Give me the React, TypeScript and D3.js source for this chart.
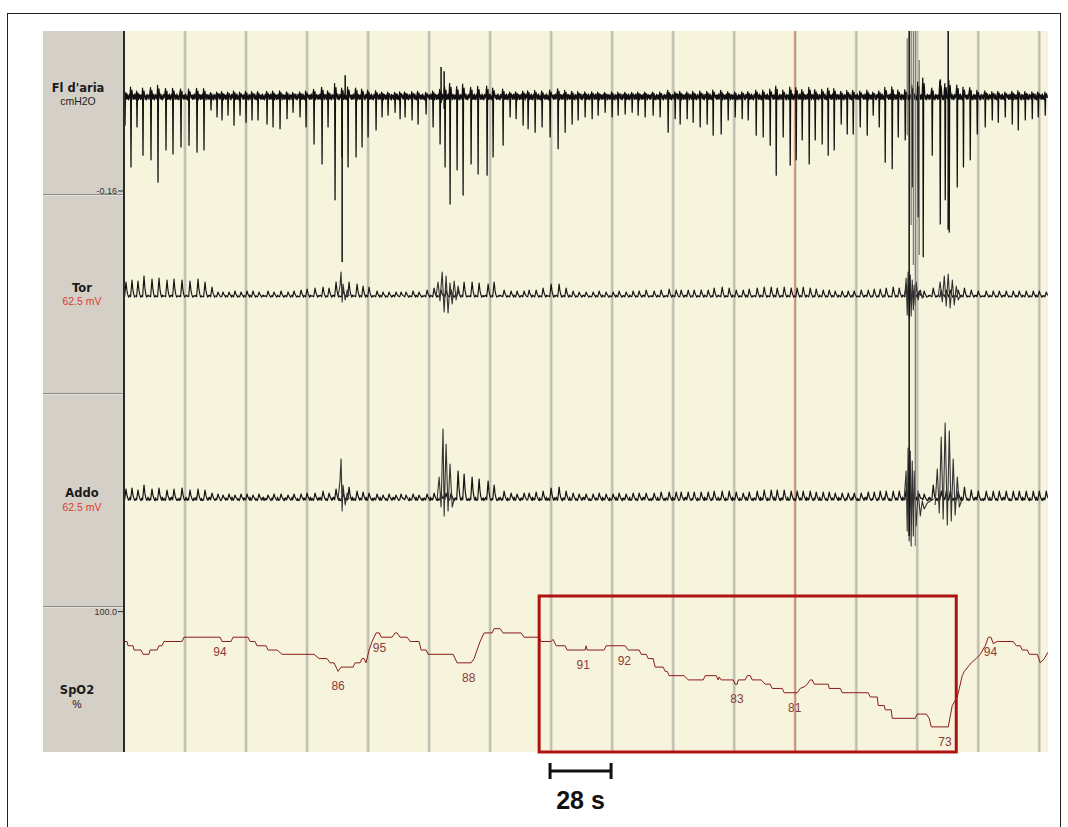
import React from "react";
import * as d3 from "d3";

// ---------- recording window ----------
const EPOCH_S = 424; // seconds shown across the page
const GRID_S = 28; // vertical grid every 28 s
const CURSOR_T = 308; // review cursor
const SCALE_BAR_T = [195.5, 223.5];
const HIGHLIGHT_T = [190.5, 381.9];

// ---------- breaths (onset time, s) ----------
const BREATH_T = [
  0.46, 3.21, 5.97, 8.72, 12.39, 15.61, 19.28, 22.49, 26.16, 29.84,
  33.51, 36.72, 39.93, 42.69, 44.98, 47.74, 50.49, 53.25, 56.0, 58.75,
  61.51, 65.64, 68.39, 71.61, 74.82, 77.58, 80.79, 83.54, 87.21, 90.89,
  93.64, 96.85, 100.07, 102.82, 106.49, 109.25, 112.0, 115.67, 118.43, 121.18,
  124.39, 126.69, 128.98, 132.2, 134.95, 138.62, 141.84, 145.05, 147.34, 149.64,
  152.85, 155.61, 159.28, 162.49, 166.62, 169.38, 173.97, 177.18, 179.93, 183.15,
  185.44, 188.66, 191.87, 195.54, 199.21, 202.43, 205.64, 208.4, 211.61, 214.82,
  217.58, 220.79, 224.0, 226.75, 229.97, 233.18, 235.93, 239.15, 242.82, 246.03,
  249.7, 252.92, 255.21, 258.43, 261.18, 264.39, 267.61, 270.36, 274.04, 277.25,
  280.47, 283.68, 286.44, 290.11, 293.32, 296.53, 299.29, 302.5, 305.71, 308.46,
  311.22, 314.43, 317.18, 320.39, 323.15, 325.9, 329.11, 331.87, 334.62, 337.84,
  341.05, 343.8, 346.56, 349.31, 352.52, 355.28, 358.49, 361.7, 364.46, 366.75,
  370.89, 374.56, 376.85, 378.69, 382.36, 385.21, 388.33, 391.54, 395.21, 398.43,
  401.18, 404.39, 407.61, 410.36, 413.57, 416.79, 419.54, 422.75,
];

// airflow: inspiratory dip of each breath (cmH2O)
const AIR_DIP = [
  -0.048, -0.119, -0.051, -0.099, -0.107, -0.145, -0.09, -0.097, -0.085, -0.082,
  -0.094, -0.09, -0.022, -0.034, -0.039, -0.031, -0.048, -0.031, -0.043, -0.039,
  -0.039, -0.046, -0.051, -0.054, -0.037, -0.026, -0.034, -0.051, -0.08, -0.114,
  -0.051, -0.175, -0.102, -0.119, -0.102, -0.085, -0.068, -0.056, -0.034, -0.031,
  -0.026, -0.037, -0.034, -0.039, -0.046, -0.029, -0.051, -0.08, -0.119, -0.182,
  -0.124, -0.167, -0.114, -0.131, -0.133, -0.102, -0.082, -0.034, -0.037, -0.048,
  -0.054, -0.06, -0.051, -0.068, -0.088, -0.06, -0.046, -0.039, -0.034, -0.037,
  -0.031, -0.026, -0.034, -0.031, -0.029, -0.026, -0.031, -0.034, -0.031, -0.034,
  -0.06, -0.037, -0.046, -0.037, -0.043, -0.051, -0.046, -0.065, -0.063, -0.039,
  -0.034, -0.037, -0.039, -0.065, -0.068, -0.082, -0.133, -0.068, -0.116, -0.107,
  -0.073, -0.114, -0.073, -0.08, -0.099, -0.09, -0.046, -0.063, -0.063, -0.051,
  -0.065, -0.031, -0.051, -0.111, -0.122, -0.068, -0.073, -0.153, -0.204, -0.272,
  -0.099, -0.216, -0.175, -0.23, -0.153, -0.119, -0.107, -0.063, -0.051, -0.039,
  -0.043, -0.034, -0.046, -0.056, -0.039, -0.037, -0.034, -0.031,
];

// thoracic effort: peak of each breath (channel units)
const TOR_PEAK = [
  14, 16, 15, 20, 17, 18, 16, 17, 16, 15,
  17, 14, 9, 4, 4, 4, 5, 4, 5, 5,
  4, 5, 4, 5, 4, 5, 6, 7, 8, 9,
  8, 14, 6, 14, 12, 10, 9, 5, 4, 4,
  4, 4, 4, 5, 4, 6, 8, 6, 6, 6,
  6, 14, 14, 13, 12, 14, 6, 5, 5, 5,
  6, 6, 8, 12, 12, 8, 5, 4, 4, 4,
  5, 4, 4, 5, 4, 5, 5, 6, 5, 6,
  7, 6, 6, 6, 6, 6, 6, 8, 9, 8,
  6, 6, 7, 8, 9, 9, 8, 9, 8, 8,
  9, 8, 7, 6, 6, 5, 5, 5, 5, 6,
  6, 7, 7, 8, 9, 8, 12, 5, 5, 5,
  8, 6, 6, 6, 6, 8, 6, 5, 5, 5,
  5, 5, 5, 5, 5, 5, 5, 4,
];

// abdominal effort: peak of each breath (channel units)
const ADDO_PEAK = [
  10, 11, 9, 14, 10, 11, 9, 10, 11, 9,
  10, 9, 6, 5, 4, 5, 4, 5, 5, 4,
  5, 4, 5, 5, 4, 5, 5, 6, 6, 8,
  6, 10, 6, 12, 8, 7, 6, 5, 4, 5,
  4, 5, 4, 5, 4, 5, 6, 6, 6, 6,
  28, 25, 22, 20, 18, 14, 8, 6, 5, 6,
  6, 7, 8, 11, 12, 8, 6, 5, 5, 5,
  6, 5, 5, 6, 5, 6, 6, 6, 6, 7,
  7, 7, 7, 7, 7, 7, 7, 8, 8, 8,
  7, 6, 7, 8, 9, 9, 9, 9, 8, 8,
  8, 8, 7, 7, 7, 6, 6, 6, 6, 6,
  7, 7, 8, 8, 8, 8, 10, 5, 5, 5,
  14, 8, 8, 8, 8, 12, 9, 8, 8, 8,
  8, 8, 8, 8, 8, 8, 8, 8,
];

// movement / arousal bursts: [time s, value]
const TOR_BURSTS: [number, number][][] = [
  [[98.2, 0], [99.1, 10], [99.6, 24], [100.1, -6], [100.5, 12], [101.5, -4], [102.4, 6], [103.3, 0]],
  [[143.2, 0], [144.1, 14], [145.0, -5], [146.0, 24], [146.9, -16], [147.8, 20], [148.7, -17], [149.6, 13],
   [150.6, -8], [151.5, 15], [152.4, -4], [153.3, 10], [154.2, 0]],
  [[358.0, 0], [358.5, 6], [358.9, 18], [359.4, -19], [359.8, 24], [360.3, -22], [360.8, 21], [361.2, -20],
   [361.7, 16], [362.2, -14], [362.6, 11], [363.1, -9], [363.5, 14], [364.4, -4], [365.4, 6], [366.3, -2], [367.2, 0]],
  [[373.6, 0], [374.5, 14], [375.5, -6], [376.4, 20], [377.3, -10], [378.2, 22], [379.1, -12], [380.1, 16],
   [381.0, -9], [381.9, 10], [382.8, -4], [383.7, 0]],
];

const ADDO_BURSTS: [number, number][][] = [
  [[98.2, 0], [99.1, 18], [99.6, 40], [100.1, -12], [100.5, 14], [101.5, -6], [102.4, 6], [103.3, 0]],
  [[143.7, 0], [144.6, 22], [145.5, -8], [146.4, 70], [146.9, -17], [147.8, 55], [148.7, -12], [149.6, 35],
   [150.6, -8], [151.5, 0]],
  [[358.0, 0], [358.9, 28], [359.4, -32], [359.8, 51], [360.3, -42], [360.8, 48], [361.2, -47], [361.7, 38],
   [362.2, -37], [362.6, 28], [363.5, -27], [364.4, 8], [365.4, -17], [366.3, -2], [367.2, -10], [368.6, -4],
   [370.0, -2], [371.5, 0]],
  [[372.2, -6], [373.2, 30], [374.1, -14], [375.0, 62], [375.9, -20], [376.8, 76], [377.8, -26], [378.7, 68],
   [379.6, -22], [380.5, 40], [381.4, -16], [382.4, 22], [383.3, -8], [384.6, 0]],
];

// saturated artefact strokes: [time s, channel, value, channel, value, dark]
const ARTIFACTS: [number, string, number, string, number, number][] = [
  [100.1, "air", 0.008, "tor", 34, 1],
  [101.5, "air", 0.037, "air", 0, 1],
  [145.5, "air", 0.051, "air", -0.01, 1],
  [146.9, "air", 0.044, "air", -0.02, 1],
  [359.4, "air", 0.1, "air", -0.065, 0],
  [360.3, "air", 0.115, "addo", -37, 1],
  [361.2, "air", 0.115, "air", -0.218, 0],
  [362.2, "air", 0.115, "air", -0.286, 0],
  [363.1, "air", 0.115, "addo", -47, 0],
  [364.9, "air", 0.063, "air", -0.269, 0],
  [374.6, "air", 0.03, "air", 0, 1],
  [378.2, "air", 0.115, "air", -0.226, 1],
];

// ---------- SpO2 (%) ----------
const SPO2_T = [
  0, 1.38, 1.84, 4.13, 4.59, 7.8, 8.72, 11.48, 11.93, 15.15, 16.07, 17.44, 18.36, 26.62, 27.54, 44.07,
  44.98, 49.12, 50.03, 56.92, 57.84, 60.13, 61.05, 65.18, 66.1, 70.23, 72.53, 87.21, 89.51, 93.18, 94.56,
  96.39, 98.23, 99.61, 105.12, 106.03, 108.33, 109.25, 110.16, 111.08, 112.46, 113.84, 115.67, 117.2,
  118.0, 123.02, 124.39, 125.31, 126.69, 129.9, 131.28, 135.41, 136.33, 138.62, 139.54, 151.02, 152.85,
  159.28, 160.66, 163.41, 165.25, 168.92, 169.84, 172.59, 173.97, 182.23, 183.61, 190.49, 191.41, 196.0,
  196.92, 197.38, 198.3, 202.43, 203.35, 211.61, 212.07, 212.53, 220.33, 221.25, 229.97, 231.35, 236.4,
  237.31, 239.61, 240.53, 242.82, 243.74, 247.41, 248.33, 249.25, 250.17, 257.05, 258.89, 265.78, 266.7,
  271.75, 272.66, 273.12, 274.04, 279.55, 280.47, 281.38, 281.84, 285.05, 285.97, 287.35, 288.27, 292.4,
  294.23, 296.53, 297.45, 302.04, 302.95, 308.92, 310.3, 312.59, 313.51, 314.89, 315.81, 316.72, 323.15,
  323.61, 328.66, 329.58, 341.51, 342.43, 345.64, 346.1, 348.86, 349.31, 352.07, 352.53, 363.09, 364.0,
  368.13, 369.51, 370.43, 378.23, 380.07, 382.36, 384.66, 385.58, 388.79, 391.08, 392.92, 395.22, 396.59,
  397.8, 398.89, 400.72, 408.07, 409.44, 411.28, 412.2, 414.5, 415.41, 419.09, 420.46, 422.3, 424,
];
const SPO2_V = [
  93, 93, 92, 92, 91, 91, 90, 90, 91, 91, 92, 92, 93, 93, 94, 94,
  93, 93, 94, 94, 93, 93, 92, 92, 91, 91, 90, 90, 89, 89, 88,
  88, 86, 87, 87, 88, 88, 89, 89, 88, 91, 93, 95, 95,
  94, 94, 95, 95, 94, 94, 93, 93, 91, 91, 90, 90, 88,
  88, 89, 93, 95, 95, 96, 96, 95, 95, 94, 94, 93, 93,
  93.5, 93, 92, 92, 91, 91, 92, 91, 91, 92, 92, 91, 91,
  90, 90, 89, 89, 87, 87, 86, 86, 85, 85, 84, 84, 85,
  85, 84, 84.7, 84, 84, 83, 83, 84, 84, 85, 85, 84, 84,
  83, 83, 82, 82, 81, 81, 82, 82.5, 83, 84, 84, 83, 83,
  82, 82, 81, 81, 80, 80, 78, 78, 77, 77, 75, 75, 76,
  76, 75, 73, 73, 78, 80, 85, 86, 88, 89, 90, 92, 94,
  94, 92.5, 93, 93, 92, 92, 91, 91, 90, 90, 88, 89, 90.5,
];
const SPO2_LABEL_T = [44.0, 98.23, 117.2, 158.2, 210.7, 229.6, 281.3, 307.8, 376.7, 397.6];
const SPO2_LABEL_V = [94, 86, 95, 88, 91, 92, 83, 81, 73, 94];

// ---------- channel labels ----------
const CHANNELS = [
  { name: "Fl d'aria", unit: "cmH2O", unitColor: "#222", cx: 78, nameY: 92, unitY: 105 },
  { name: "Tor", unit: "62.5 mV", unitColor: "#e03a32", cx: 82, nameY: 292, unitY: 305 },
  { name: "Addo", unit: "62.5 mV", unitColor: "#e03a32", cx: 82, nameY: 497, unitY: 511 },
  { name: "SpO2", unit: "%", unitColor: "#222", cx: 77, nameY: 694, unitY: 708 },
];
const PANEL_SPLITS = [194, 393, 606];

// ---------- layout ----------
const W = 1068;
const H = 827;
const X_LEFT = 124;
const X_RIGHT = 1048;
const Y_TOP = 31;
const Y_BOTTOM = 752;
const PANEL_LEFT = 43;

const SANS = "'Liberation Sans', Arial, sans-serif";
const LABEL_FONT = "'DejaVu Sans', Verdana, sans-serif";

// small fixed wobble of each trace between breaths (px)
const AIR_WOBBLE = [2.0, -1.8, 3.0, -2.2, 1.2, -2.8, 2.6, -1.0, 1.8, -2.4];
const TOR_WOBBLE = [0.5, -0.4, 0.9, -0.3, 0.2, -0.6];
const ADDO_WOBBLE = [1.2, -1.0, 1.8, -1.4, 0.6, -1.6];

type Pt = [number, number];

function airPoints(x: d3.ScaleLinear<number, number>, y: d3.ScaleLinear<number, number>): Pt[] {
  const pts: Pt[] = [];
  const base = y(0);
  const n = BREATH_T.length;
  let k = 0;
  for (let i = 0; i < n; i++) {
    const xi = x(BREATH_T[i]);
    const x0 = i === 0 ? X_LEFT : (x(BREATH_T[i - 1]) + xi) / 2;
    const x1 = i === n - 1 ? X_RIGHT : (xi + x(BREATH_T[i + 1])) / 2;
    const dipY = y(AIR_DIP[i]);
    const up = 3 + 0.1 * (dipY - base);
    for (let px = x0; px < xi - 0.8; px += 0.65) pts.push([px, base - AIR_WOBBLE[k++ % AIR_WOBBLE.length]]);
    pts.push([xi - 0.45, base - up]);
    pts.push([xi, dipY]);
    pts.push([xi + 0.4, base + 1.5]);
    pts.push([xi + 0.9, base - up * 0.7]);
    for (let px = xi + 1.5; px < x1; px += 0.65) pts.push([px, base - AIR_WOBBLE[k++ % AIR_WOBBLE.length]]);
  }
  return pts;
}

function musclePoints(
  x: d3.ScaleLinear<number, number>,
  y: d3.ScaleLinear<number, number>,
  peaks: number[],
  wobble: number[]
): Pt[] {
  const pts: Pt[] = [];
  const base = y(0);
  const n = BREATH_T.length;
  const lag = 1;
  let k = 0;
  for (let i = 0; i < n; i++) {
    const xi = x(BREATH_T[i]) + lag;
    const x0 = i === 0 ? X_LEFT : (x(BREATH_T[i - 1]) + x(BREATH_T[i])) / 2 + lag;
    const x1 = i === n - 1 ? X_RIGHT : (x(BREATH_T[i]) + x(BREATH_T[i + 1])) / 2 + lag;
    const py = y(peaks[i]);
    const a = base - py;
    const shape: Pt[] = [
      [xi - 1.4, base + 0.8],
      [xi, py],
      [xi + 0.9, base - a * 0.4],
      [xi + 1.7, base - a * 0.12],
      [xi + 2.6, base + 1.2],
    ];
    for (let px = x0; px < xi - 1.6; px += 1.1) pts.push([px, base - wobble[k++ % wobble.length]]);
    shape.forEach((p) => {
      if (p[0] >= x0 && p[0] < x1) pts.push(p);
    });
    for (let px = xi + 3.4; px < x1; px += 1.1) pts.push([px, base - wobble[k++ % wobble.length]]);
  }
  return pts;
}

export default function App() {
  const x = d3.scaleLinear().domain([0, EPOCH_S]).range([X_LEFT, X_RIGHT]);
  const yAir = d3.scaleLinear().domain([0, -0.16]).range([97, 191]);
  const yTor = d3.scaleLinear().domain([-100, 100]).range([396, 196]);
  const yAddo = d3.scaleLinear().domain([-100, 100]).range([599, 399]);
  const ySpo2 = d3.scaleLinear().domain([100, 67]).range([611.6, 752.5]);
  const chan: Record<string, d3.ScaleLinear<number, number>> = { air: yAir, tor: yTor, addo: yAddo };

  const line = d3.line<Pt>();
  const airD = line(airPoints(x, yAir)) || "";
  const torD = line(musclePoints(x, yTor, TOR_PEAK, TOR_WOBBLE)) || "";
  const addoD = line(musclePoints(x, yAddo, ADDO_PEAK, ADDO_WOBBLE)) || "";
  const burstLine = (y: d3.ScaleLinear<number, number>) =>
    d3.line<[number, number]>().x((d) => x(d[0])).y((d) => y(d[1]));
  const spo2D =
    d3
      .line<number>()
      .x((_, i) => x(SPO2_T[i]))
      .y((v) => ySpo2(v))(SPO2_V) || "";

  const gridT = d3.range(GRID_S, EPOCH_S, GRID_S);

  return (
    <div style={{ position: "absolute", left: 0, top: 0 }}>
      <svg width={W} height={H} style={{ display: "block", background: "#fff" }}>
        <defs>
          <clipPath id="plotClip">
            <rect x={X_LEFT} y={Y_TOP} width={X_RIGHT - X_LEFT} height={Y_BOTTOM - Y_TOP} />
          </clipPath>
        </defs>

        {/* page frame */}
        <line x1={7.5} y1={13} x2={7.5} y2={H} stroke="#222" strokeWidth={1} />
        <line x1={7} y1={13.5} x2={1061} y2={13.5} stroke="#222" strokeWidth={1} />
        <line x1={1060.5} y1={13} x2={1060.5} y2={H} stroke="#222" strokeWidth={1} />

        {/* label column */}
        <rect x={PANEL_LEFT} y={Y_TOP} width={X_LEFT - PANEL_LEFT} height={Y_BOTTOM - Y_TOP} fill="#d4d0c8" />
        {PANEL_SPLITS.map((s) => (
          <g key={s}>
            <line x1={PANEL_LEFT} x2={X_LEFT} y1={s + 0.5} y2={s + 0.5} stroke="#8a8a8a" />
            <line x1={PANEL_LEFT} x2={X_LEFT} y1={s + 1.5} y2={s + 1.5} stroke="#e6e3dc" />
          </g>
        ))}
        {CHANNELS.map((c) => (
          <g key={c.name}>
            <text x={c.cx} y={c.nameY} textAnchor="middle" fontFamily={LABEL_FONT} fontWeight="bold" fontSize={11.5} fill="#1a1a1a">
              {c.name}
            </text>
            <text x={c.cx} y={c.unitY} textAnchor="middle" fontFamily={SANS} fontSize={10.5} fill={c.unitColor}>
              {c.unit}
            </text>
          </g>
        ))}
        {/* scale marks */}
        <line x1={118} x2={123} y1={yAir(-0.16)} y2={yAir(-0.16)} stroke="#333" />
        <text x={117} y={yAir(-0.16) + 3} textAnchor="end" fontFamily={SANS} fontSize={9} fill="#333">
          -0.16
        </text>
        <line x1={118} x2={123} y1={ySpo2(100)} y2={ySpo2(100)} stroke="#333" />
        <text x={117} y={ySpo2(100) + 3} textAnchor="end" fontFamily={SANS} fontSize={9} fill="#333">
          100.0
        </text>

        {/* trace area */}
        <rect x={X_LEFT} y={Y_TOP} width={X_RIGHT - X_LEFT} height={Y_BOTTOM - Y_TOP} fill="#f6f4dc" />
        {gridT.map((t) => (
          <g key={t}>
            <line x1={x(t)} x2={x(t)} y1={Y_TOP} y2={Y_BOTTOM} stroke="#d2d0c2" strokeWidth={3} />
            <line x1={x(t)} x2={x(t)} y1={Y_TOP} y2={Y_BOTTOM} stroke="#b6b4a8" strokeWidth={1} />
          </g>
        ))}
        <line x1={x(CURSOR_T)} x2={x(CURSOR_T)} y1={Y_TOP} y2={Y_BOTTOM} stroke="#e8845c" strokeWidth={1.6} />

        <g clipPath="url(#plotClip)" fill="none" strokeLinejoin="round">
          <path d={airD} stroke="#101010" strokeWidth={1.25} />
          <path d={torD} stroke="#141414" strokeWidth={1.15} />
          <path d={addoD} stroke="#141414" strokeWidth={1.2} />
          {TOR_BURSTS.map((b, i) => (
            <path key={"tb" + i} d={burstLine(yTor)(b) || ""} stroke="#333" strokeWidth={1.1} />
          ))}
          {ADDO_BURSTS.map((b, i) => (
            <path key={"ab" + i} d={burstLine(yAddo)(b) || ""} stroke="#333" strokeWidth={1.1} />
          ))}
          {ARTIFACTS.map((a, i) => (
            <line
              key={"ar" + i}
              x1={x(a[0])}
              x2={x(a[0])}
              y1={chan[a[1]](a[2])}
              y2={chan[a[3]](a[4])}
              stroke={a[5] ? "#111" : "#6a6a6a"}
              strokeWidth={a[5] ? 1.5 : 1.1}
            />
          ))}
          <path d={spo2D} stroke="#8b1c1c" strokeWidth={1} />
        </g>
        {SPO2_LABEL_T.map((t, i) => (
          <text
            key={"sl" + i}
            x={x(t)}
            y={ySpo2(SPO2_LABEL_V[i]) + 19}
            textAnchor="middle"
            fontFamily={SANS}
            fontSize={12}
            fill="#8e3a3a"
          >
            {SPO2_LABEL_V[i]}
          </text>
        ))}

        {/* left edge of the trace area */}
        <line x1={X_LEFT} x2={X_LEFT} y1={Y_TOP} y2={Y_BOTTOM} stroke="#2a2a2a" strokeWidth={2} />

        {/* desaturation window */}
        <rect
          x={x(HIGHLIGHT_T[0])}
          y={596}
          width={x(HIGHLIGHT_T[1]) - x(HIGHLIGHT_T[0])}
          height={Y_BOTTOM - 596}
          fill="none"
          stroke="#b01212"
          strokeWidth={3}
        />

        {/* time scale bar */}
        <g stroke="#111" strokeWidth={3}>
          <line x1={x(SCALE_BAR_T[0])} x2={x(SCALE_BAR_T[1])} y1={771} y2={771} />
          <line x1={x(SCALE_BAR_T[0])} x2={x(SCALE_BAR_T[0])} y1={763} y2={779} />
          <line x1={x(SCALE_BAR_T[1])} x2={x(SCALE_BAR_T[1])} y1={763} y2={779} />
        </g>
        <text
          x={(x(SCALE_BAR_T[0]) + x(SCALE_BAR_T[1])) / 2}
          y={809}
          textAnchor="middle"
          fontFamily={SANS}
          fontWeight="bold"
          fontSize={25}
          fill="#111"
        >
          {`${SCALE_BAR_T[1] - SCALE_BAR_T[0]} s`}
        </text>
      </svg>
    </div>
  );
}
